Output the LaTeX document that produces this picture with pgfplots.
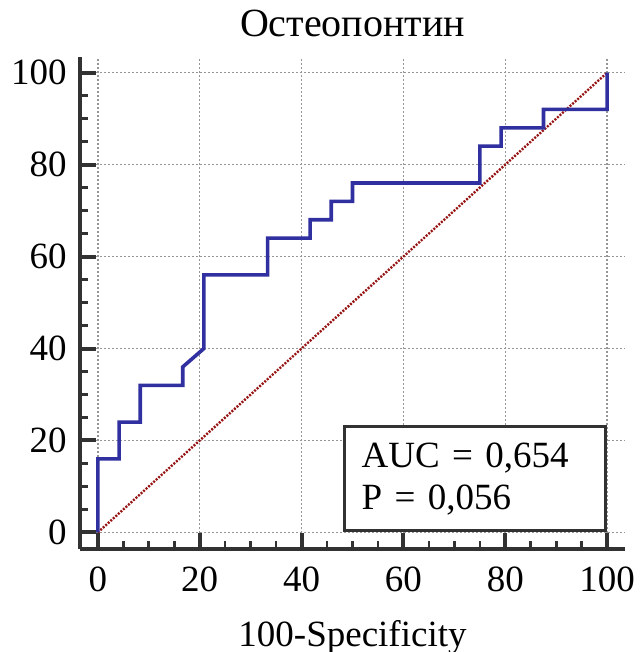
\documentclass[border=0pt]{standalone}
\usepackage{fontspec}
\setmainfont{Liberation Serif}
\usepackage{pgfplots}
\pgfplotsset{compat=1.18}

\definecolor{rocblue}{RGB}{48,48,160}
\definecolor{diagred}{RGB}{150,20,20}
\definecolor{axgray}{RGB}{50,50,50}
\definecolor{gridgray}{RGB}{150,150,150}

\newcommand{\chartfont}{\fontsize{18.5}{21.3}\selectfont}

\begin{document}
\begin{tikzpicture}
\begin{axis}[
    scale only axis,
    width=272.5pt, height=246pt,
    xmin=-3.5, xmax=103.5,
    ymin=-3.6, ymax=103.4,
    axis x line=bottom, axis y line=left,
    axis line style={-, line width=2pt, color=axgray},
    xtick={0,20,...,100}, ytick={0,20,...,100},
    minor tick num=3,
    tick align=inside,
    major tick length=8pt, minor tick length=4pt,
    major tick style={line width=2pt, color=axgray},
    minor tick style={line width=1.3pt, color=axgray},
    grid=major,
    major grid style={gridgray, line width=0.8pt, dash pattern=on 1pt off 1pt},
    /pgf/number format/assume math mode=true,
    tick label style={font=\chartfont},
    xticklabel style={anchor=base, yshift=-21pt},
    yticklabel style={anchor=east, inner xsep=0pt, xshift=-6.5pt},
    title={Остеопонтин},
    title style={font=\fontsize{20}{23}\selectfont, at={(axis description cs:0.5,1)}, anchor=base, yshift=4pt},
    xlabel={100-Specificity},
    xlabel style={font=\chartfont, at={(axis description cs:0.5,0)}, anchor=base, yshift=-48.5pt},
]
% reference line
\addplot[diagred, line width=1.2pt, dash pattern=on 1pt off 0.7pt] coordinates {(0,0) (100,100)};
% ROC curve
\addplot[rocblue, line width=1.8pt, line join=miter] coordinates {
    (0,0) (0,16) (4.17,16) (4.17,24) (8.33,24) (8.33,32)
    (16.67,32) (16.67,36) (20.83,40) (20.83,56) (33.33,56) (33.33,64)
    (41.67,64) (41.67,68) (45.83,68) (45.83,72) (50,72) (50,76)
    (75,76) (75,84) (79.17,84) (79.17,88) (87.5,88) (87.5,92)
    (100,92) (100,100)
};
\node[draw=axgray, line width=1.5pt, fill=white, anchor=south east,
      minimum width=130.5pt, minimum height=52pt, inner xsep=8.5pt,
      text width=113.5pt, align=left, font=\chartfont]
      at (axis cs:100,0) {AUC = 0,654\\P = 0,056};
\coordinate (BL) at (rel axis cs:0,0);
\coordinate (TR) at (rel axis cs:1,1);
\end{axis}
\pgfresetboundingbox
\useasboundingbox ([shift={(-40pt,-51.5pt)}]BL) rectangle ([shift={(7.5pt,28.5pt)}]TR);
\end{tikzpicture}
\end{document}
